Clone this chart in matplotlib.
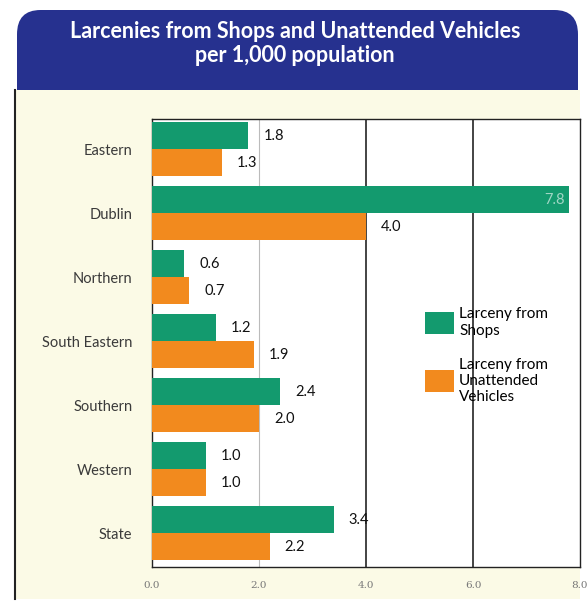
import numpy as np
import matplotlib.pyplot as plt
from matplotlib.patches import FancyBboxPatch, Rectangle

regions = ['Eastern', 'Dublin', 'Northern', 'South Eastern', 'Southern', 'Western', 'State']
shops = [1.8, 7.8, 0.6, 1.2, 2.4, 1.0, 3.4]
vehicles = [1.3, 4.0, 0.7, 1.9, 2.0, 1.0, 2.2]
xticks = [0.0, 2.0, 4.0, 6.0, 8.0]

green = '#139a6e'
orange = '#f28a1e'
navy = '#26318f'
cream = '#fbfae6'

W, H = 588, 607
fig = plt.figure(figsize=(W / 100, H / 100), dpi=100)
fig.patch.set_facecolor('white')

# cream panel and blue header (figure coords)
fig.patches.append(Rectangle((15 / W, 8 / H), 565 / W, (H - 90 - 8) / H,
                             transform=fig.transFigure, facecolor=cream,
                             edgecolor='none', zorder=-2))
fig.add_artist(plt.Line2D([15 / W, 15 / W], [8 / H, (H - 90) / H],
                          transform=fig.transFigure, color='#222222', lw=1.5))
fig.patches.append(FancyBboxPatch((17 / W, (H - 90) / H), 561 / W, 80 / H,
                                  boxstyle='round,pad=0,rounding_size=0.04',
                                  transform=fig.transFigure, facecolor=navy,
                                  edgecolor='none', zorder=-1))
fig.patches.append(Rectangle((17 / W, (H - 90) / H), 561 / W, 30 / H,
                             transform=fig.transFigure, facecolor=navy,
                             edgecolor='none', zorder=-1))
fig.text(295 / W, 1 - 31 / H, 'Larcenies from Shops and Unattended Vehicles',
         ha='center', va='center', color='white', fontsize=15.5,
         fontweight='bold', family='Lato', zorder=3)
fig.text(295 / W, 1 - 56 / H, 'per 1,000 population',
         ha='center', va='center', color='white', fontsize=15.5,
         fontweight='bold', family='Lato', zorder=3)

ax = fig.add_axes([152 / W, 1 - 567 / H, 428 / W, (567 - 119) / H])
ax.set_zorder(5)
ax.set_facecolor('white')

y = np.arange(len(regions))
h = 0.42
ax.barh(y - h / 2, shops, height=h, color=green, zorder=3, label='Larceny from\nShops')
ax.barh(y + h / 2, vehicles, height=h, color=orange, zorder=3,
        label='Larceny from\nUnattended\nVehicles')

for i in range(len(regions)):
    if shops[i] > 7:
        ax.text(shops[i] - 0.08, y[i] - h / 2, f'{shops[i]:.1f}', ha='right',
                va='center', color='white', alpha=0.6, fontsize=10.5, zorder=4,
                family='Lato')
    else:
        ax.text(shops[i] + 0.28, y[i] - h / 2, f'{shops[i]:.1f}', ha='left',
                va='center', color='#111111', fontsize=10.5, zorder=4, family='Lato')
    ax.text(vehicles[i] + 0.28, y[i] + h / 2, f'{vehicles[i]:.1f}', ha='left',
            va='center', color='#111111', fontsize=10.5, zorder=4, family='Lato')

ax.set_xlim(0, 8)
ax.set_ylim(6.53, -0.47)
ax.set_xticks(xticks)
ax.set_xticklabels([f'{v:.1f}' for v in xticks], fontsize=7.5, color='#777777',
                   family='DejaVu Serif')
ax.set_yticks(y)
ax.set_yticklabels(regions, fontsize=10.5, color='#3a3a3a', family='Lato')
ax.tick_params(axis='both', length=0)
ax.tick_params(axis='y', pad=14)
ax.tick_params(axis='x', pad=10)

ax.axvline(2.0, color='#bbbbbb', lw=0.8, zorder=1)
ax.axvline(4.0, color='#111111', lw=1.1, zorder=1)
ax.axvline(6.0, color='#111111', lw=1.1, zorder=1)
for s in ax.spines.values():
    s.set_color('#222222')
    s.set_linewidth(1.0)

ax.legend(loc='upper left', bbox_to_anchor=(0.605, 0.61), frameon=False,
          handlelength=1.9, handleheight=1.8, handletextpad=0.35,
          labelspacing=1.3, prop={'family': 'Lato', 'size': 11})

fig.savefig('out.png', dpi=100, facecolor=fig.get_facecolor())
